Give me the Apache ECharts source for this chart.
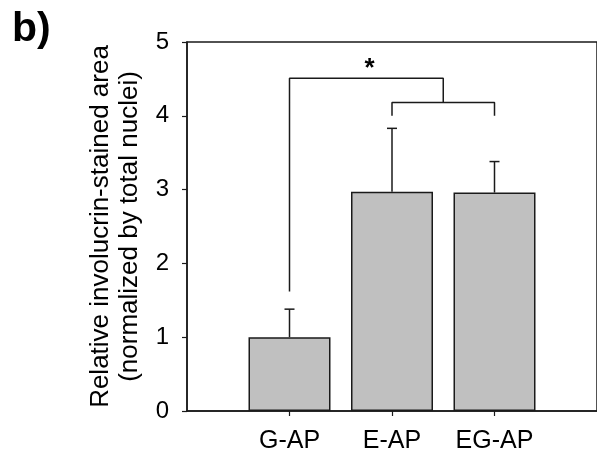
<!DOCTYPE html>
<html>
<head>
<meta charset="utf-8">
<script src="https://cdn.jsdelivr.net/npm/echarts@6/dist/echarts.min.js"></script>
<style>
  html, body { margin: 0; padding: 0; background: #fff; }
  #chart { width: 597px; height: 457px; }
</style>
</head>
<body>
<div id="chart"></div>
<script>
const categories = ["G-AP", "E-AP", "EG-AP"];
const categoryPos = [1, 2, 3];
const means = [1.0, 2.97, 2.96];
const upperErr = [0.38, 0.86, 0.42];
const yTicks = [0, 1, 2, 3, 4, 5];

// significance brackets (x in category units, y in data units)
const bracketBig = [[1, 1.62], [1, 4.51], [2.5, 4.51], [2.5, 4.18]];
const bracketSmall = [[2, 4.0], [2, 4.18], [3, 4.18], [3, 4.0]];
const starPos = [1.78, 4.63];

const font = "'Liberation Sans', Arial, sans-serif";
const ink = "#1a1a1a";

const chart = echarts.init(document.getElementById("chart"));

chart.setOption({
  animation: false,
  grid: {
    left: 187,
    top: 42,
    right: -2,
    bottom: 46,
    show: true,
    borderColor: ink,
    borderWidth: 1.5
  },
  graphic: [
    {
      type: "text",
      left: 12,
      top: 9,
      style: { text: "b)", font: "bold 41px " + font, fill: "#000" }
    }
  ],
  xAxis: {
    type: "value",
    min: 0,
    max: 4,
    interval: 1,
    splitLine: { show: false },
    axisLine: { lineStyle: { color: ink, width: 1.5 } },
    axisTick: {
      show: true,
      length: 5,
      customValues: categoryPos,
      lineStyle: { color: ink, width: 1.2 }
    },
    axisLabel: {
      customValues: categoryPos,
      formatter: (v) => categories[categoryPos.indexOf(v)] || "",
      fontSize: 25,
      fontFamily: font,
      color: "#000",
      margin: 18
    }
  },
  yAxis: {
    type: "value",
    min: 0,
    max: 5,
    interval: 1,
    splitLine: { show: false },
    axisLine: { show: true, lineStyle: { color: ink, width: 1.5 } },
    axisTick: { show: true, length: 5, lineStyle: { color: ink, width: 1.2 } },
    axisLabel: {
      fontSize: 24,
      fontFamily: font,
      color: "#000",
      margin: 18,
      formatter: (v) => (yTicks.includes(v) ? String(v) : "")
    },
    name: "Relative involucrin-stained area\n(normalized by total nuclei)",
    nameLocation: "middle",
    nameRotate: 90,
    nameGap: 39,
    nameTextStyle: {
      fontSize: 26,
      fontFamily: font,
      color: "#000",
      lineHeight: 29
    }
  },
  series: [
    {
      type: "bar",
      barWidth: 82,
      data: categoryPos.map((x, i) => [x, means[i]]),
      itemStyle: { color: "#c0c0c0", borderColor: ink, borderWidth: 1.5 },
      z: 2
    },
    {
      type: "custom",
      data: categoryPos.map((x, i) => [x, means[i], means[i] + upperErr[i]]),
      renderItem: (params, api) => {
        const base = api.coord([api.value(0), api.value(1)]);
        const top = api.coord([api.value(0), api.value(2)]);
        const cap = 5;
        const style = { stroke: ink, lineWidth: 1.5 };
        return {
          type: "group",
          children: [
            { type: "line", shape: { x1: base[0], y1: base[1], x2: top[0], y2: top[1] }, style },
            { type: "line", shape: { x1: top[0] - cap, y1: top[1], x2: top[0] + cap, y2: top[1] }, style }
          ]
        };
      },
      z: 3
    },
    {
      type: "line",
      data: bracketBig,
      symbol: "none",
      lineStyle: { color: ink, width: 1.5 },
      z: 3
    },
    {
      type: "line",
      data: bracketSmall,
      symbol: "none",
      lineStyle: { color: ink, width: 1.5 },
      z: 3
    },
    {
      type: "custom",
      data: [starPos],
      renderItem: (params, api) => {
        const p = api.coord([api.value(0), api.value(1)]);
        return {
          type: "text",
          x: p[0],
          y: p[1],
          style: {
            text: "*",
            font: "bold 26px " + font,
            fill: "#000",
            align: "center",
            verticalAlign: "middle"
          }
        };
      },
      z: 4
    }
  ]
});
</script>
</body>
</html>
